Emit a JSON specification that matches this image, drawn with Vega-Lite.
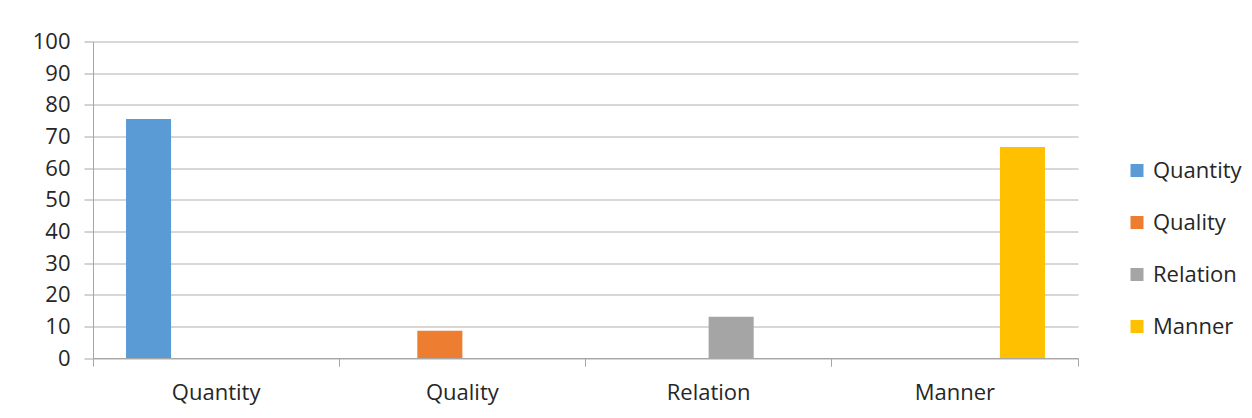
{
  "$schema": "https://vega.github.io/schema/vega-lite/v6.json",
  "width": 985,
  "height": 316.5,
  "autosize": {"type": "none"},
  "padding": {"left": 93, "top": 41.5, "right": 174, "bottom": 60},
  "background": "white",
  "config": {
    "view": {"stroke": null},
    "font": "Open Sans",
    "axis": {
      "labelFont": "Open Sans",
      "labelFontSize": 22,
      "labelColor": "#262626",
      "domainColor": "#a6a6a6",
      "tickColor": "#a6a6a6",
      "gridColor": "#b0b0b0",
      "title": null
    },
    "legend": {
      "labelFont": "Open Sans",
      "labelFontSize": 22,
      "labelColor": "#262626"
    }
  },
  "data": {
    "values": [
      {"category": "Quantity", "series": "Quantity", "value": 75.5},
      {"category": "Quality", "series": "Quality", "value": 8.6},
      {"category": "Relation", "series": "Relation", "value": 13},
      {"category": "Manner", "series": "Manner", "value": 66.7}
    ]
  },
  "layer": [
    {
      "mark": {"type": "bar"},
      "encoding": {
        "x": {
          "field": "category",
          "type": "nominal",
          "sort": ["Quantity", "Quality", "Relation", "Manner"],
          "scale": {"paddingInner": 0, "paddingOuter": 0},
          "axis": {
            "orient": "bottom",
            "labelAngle": 0,
            "ticks": false,
            "tickSize": 0,
            "labelPadding": 24,
            "domain": true,
            "grid": false
          }
        },
        "xOffset": {
          "field": "series",
          "type": "nominal",
          "scale": {
            "domain": ["Quantity", "Quality", "Relation", "Manner"],
            "paddingInner": 0,
            "paddingOuter": 0.733
          }
        },
        "y": {
          "field": "value",
          "type": "quantitative",
          "scale": {"domain": [0, 100], "nice": false},
          "axis": {
            "values": [0, 10, 20, 30, 40, 50, 60, 70, 80, 90, 100],
            "tickSize": 9,
            "labelPadding": 14,
            "grid": true,
            "domain": true
          }
        },
        "color": {
          "field": "series",
          "type": "nominal",
          "scale": {
            "domain": ["Quantity", "Quality", "Relation", "Manner"],
            "range": ["#5B9BD5", "#ED7D31", "#A5A5A5", "#FFC000"]
          },
          "legend": {
            "title": null,
            "orient": "none",
            "legendX": 1033,
            "legendY": 118,
            "symbolType": "square",
            "symbolSize": 169,
            "symbolStrokeWidth": 0,
            "labelOffset": 5,
            "rowPadding": 30
          }
        }
      }
    },
    {
      "mark": {"type": "rule", "strokeOpacity": 0},
      "encoding": {
        "x": {
          "field": "category",
          "type": "nominal",
          "sort": ["Quantity", "Quality", "Relation", "Manner"],
          "axis": {
            "orient": "bottom",
            "bandPosition": 0,
            "labels": false,
            "ticks": true,
            "tickSize": 8,
            "domain": false,
            "grid": false
          }
        }
      }
    },
    {
      "mark": {"type": "rule", "strokeOpacity": 0},
      "encoding": {
        "x": {
          "field": "category",
          "type": "nominal",
          "sort": ["Quantity", "Quality", "Relation", "Manner"],
          "axis": {
            "orient": "bottom",
            "bandPosition": 1,
            "labels": false,
            "ticks": true,
            "tickSize": 8,
            "domain": false,
            "grid": false
          }
        }
      }
    }
  ],
  "resolve": {"axis": {"x": "independent"}}
}
